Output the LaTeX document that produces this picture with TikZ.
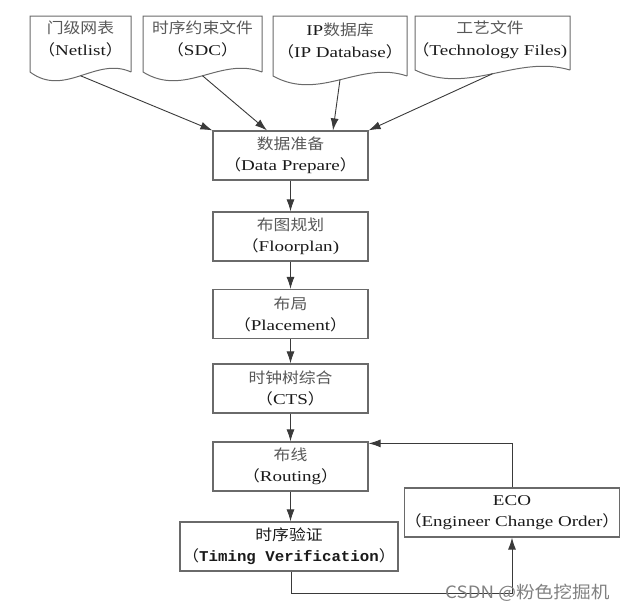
\documentclass[tikz,border=0pt]{standalone}
\usepackage{fontspec}
\setmainfont{Liberation Serif}[FakeStretch=1.27]
\newfontfamily\cjk{Noto Sans CJK SC}[FakeStretch=1.12]
\newfontfamily\cjkb{Noto Sans CJK SC}[FakeStretch=1.12,AutoFakeBold=2.5]
\newfontfamily\wmfont{Noto Sans CJK SC}[FakeStretch=1.1]
\newfontfamily\monob{Liberation Mono}[FakeStretch=1.05]
\usetikzlibrary{arrows.meta,calc}
\definecolor{boxc}{HTML}{6A6A6A}
\definecolor{linec}{HTML}{3A3A3A}
\definecolor{zhc}{HTML}{585858}
\definecolor{enc}{HTML}{1A1A1A}
\newcommand\LP{{\cjk （}}
\newcommand\RP{{\cjk ）}}
\newcommand\ZH[1]{{\cjk\fontsize{15}{21}\selectfont\color{zhc}#1}}
\tikzset{
  mainbox/.style={draw=boxc, line width=1.2pt, rectangle, minimum width=155pt, minimum height=49pt,
    align=center, inner sep=0pt, text=enc, font=\fontsize{15}{21}\selectfont},
  doctext/.style={align=center, inner sep=0pt, text=enc, font=\fontsize{15}{22}\selectfont},
  docshape/.style={draw=boxc, line width=1pt},
  arr/.style={draw=linec, line width=0.9pt, -{Latex[length=12pt,width=8pt]}},
}
\begin{document}
\begin{tikzpicture}[x=1pt,y=-1pt]
\useasboundingbox (0,0) rectangle (633,611);
% document shapes
\draw[docshape] (131,72) -- (131,16) -- (30,16) -- (30,72)
  .. controls (65,98) and (96,56) .. coordinate[pos=0.5] (w1) (131,72);
\draw[docshape] (262,72) -- (262,16) -- (143,16) -- (143,72)
  .. controls (185,98) and (220,56) .. coordinate[pos=0.5] (w2) (262,72);
\draw[docshape] (407,76) -- (407,16) -- (273,16) -- (273,76)
  .. controls (320,102) and (360,60) .. coordinate[pos=0.5] (w3) (407,76);
\draw[docshape] (570,70) -- (570,16) -- (415,16) -- (415,70)
  .. controls (469,96) and (516,54) .. coordinate[pos=0.5] (w4) (570,70);
\node[doctext] (d1) at (80.5,39) {\ZH{门级网表}\\\LP Netlist\RP};
\node[doctext] (d2) at (202.5,39) {\ZH{时序约束文件}\\\LP SDC\RP};
\node[doctext] (d3) at (340,41) {IP\ZH{数据库}\\\LP IP Database\RP};
\node[doctext] (d4) at (490,40) {\ZH{工艺文件}\\\LP Technology Files)};
% main flow
\node[mainbox] (dp) at (290.5,155.5) {\ZH{数据准备}\\\LP Data Prepare\RP};
\node[mainbox] (fp) at (290.5,236.5) {\ZH{布图规划}\\\LP Floorplan)};
\node[mainbox] (pl) at (290.5,314) {\ZH{布局}\\\LP Placement\RP};
\node[mainbox] (cts) at (290.5,388.5) {\ZH{时钟树综合}\\\LP CTS\RP};
\node[mainbox] (rt) at (290.5,466.5) {\ZH{布线}\\\LP Routing\RP};
\node[mainbox, minimum width=218pt] (tv) at (289,546.5)
  {{\cjkb\fontsize{15}{21}\selectfont\color{enc}时序验证}\\{\cjkb （}{\monob\fontsize{15}{21}\selectfont\bfseries Timing Verification}{\cjkb ）}};
\node[mainbox, minimum width=210pt] (eco) at (512,512.5) {ECO\\\LP Engineer Change Order\RP};
% connectors
\draw[arr] (w1) -- (dp.north west);
\draw[arr] (w2) -- ([xshift=-23.5pt]dp.north);
\draw[arr] (w3) -- ([xshift=42.5pt]dp.north);
\draw[arr] (w4) -- (dp.north east);
\draw[arr] (dp) -- (fp);
\draw[arr] (fp) -- (pl);
\draw[arr] (pl) -- (cts);
\draw[arr] (cts) -- (rt);
\draw[arr] (rt.south) -- (rt.south |- tv.north);
\draw[arr] ([xshift=2pt]tv.south) -- ++(0,22) coordinate (c1) -| (eco.south);
\draw[arr] (eco.north) -- ++(0,-44) coordinate (c2) -- (c2 -| rt.east);
% watermark
\node[anchor=west, inner sep=0pt, text=black!50, font=\wmfont\fontsize{17}{19}\selectfont] (wm) at (445,593) {CSDN @粉色挖掘机};
\end{tikzpicture}
\end{document}
